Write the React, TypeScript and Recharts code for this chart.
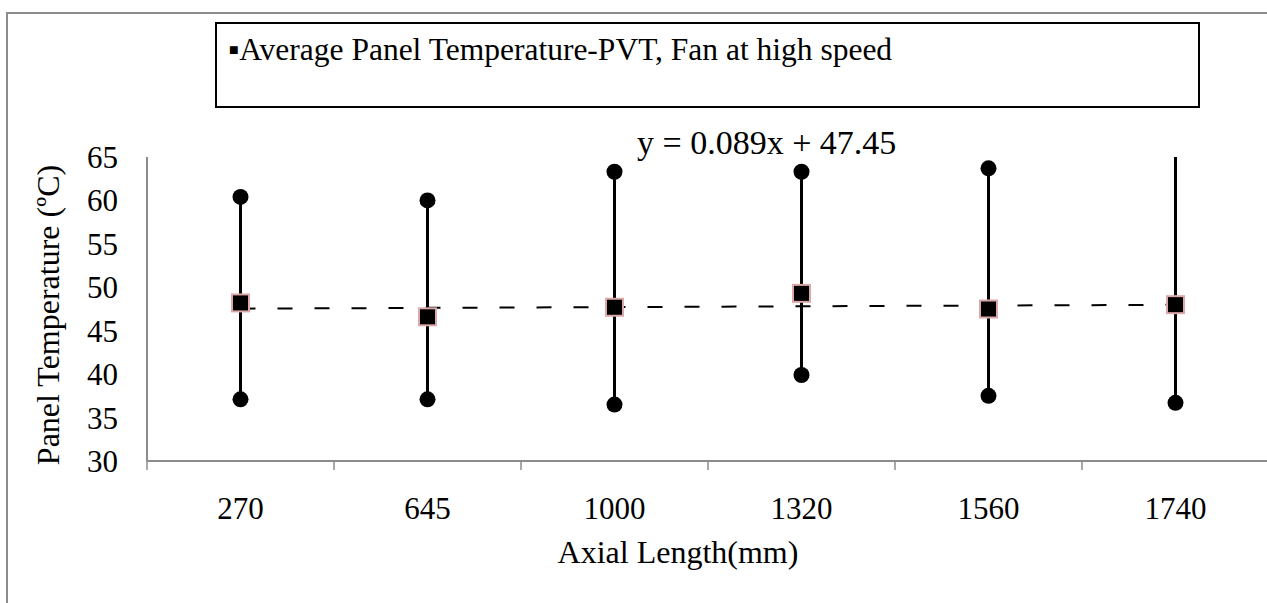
import {
  ComposedChart,
  Line,
  Bar,
  XAxis,
  YAxis,
} from 'recharts'

const categories = ['270', '645', '1000', '1320', '1560', '1740']
const avgTemp = [48.2, 46.6, 47.7, 49.3, 47.5, 48.0]
const minTemp = [37.1, 37.1, 36.5, 39.9, 37.5, 36.7]
const maxTemp = [60.4, 60.0, 63.3, 63.3, 63.7, 67.5]
// trendline y = 0.089x + 47.45 read at each category
const trendTemp = [47.54, 47.63, 47.72, 47.81, 47.9, 47.98]
const yTicks = [30, 35, 40, 45, 50, 55, 60, 65]

const data = categories.map((c, i) => ({
  name: c,
  avg: avgTemp[i],
  range: [minTemp[i], maxTemp[i]],
  trend: trendTemp[i],
}))

const FONT = '"Liberation Serif", "Times New Roman", serif'
const AXIS_GREY = '#8c8c8c'
const TICK_MARGIN = 36

const RangeShape = (props: any) => {
  const { x, y, width, height } = props
  const cx = x + width / 2
  return (
    <g>
      <line x1={cx} x2={cx} y1={y} y2={y + height} stroke="#000" strokeWidth={3} />
      <circle cx={cx} cy={y} r={8} fill="#000" />
      <circle cx={cx} cy={y + height} r={8} fill="#000" />
    </g>
  )
}

const AvgDot = (props: any) => {
  const { cx, cy, index } = props
  if (cx == null || cy == null) return null
  return (
    <rect
      key={`avg-${index}`}
      x={cx - 8.5}
      y={cy - 8.5}
      width={17}
      height={17}
      fill="#000"
      stroke="#dba9a9"
      strokeWidth={2}
    />
  )
}

// category label plus the tick marks that Excel puts between categories
const CatTick = (props: any) => {
  const { x, y, payload, index, width, visibleTicksCount } = props
  const bw = width / visibleTicksCount
  const axisY = y - TICK_MARGIN
  const left = x - bw / 2
  const right = x + bw / 2
  return (
    <g>
      <line x1={left} x2={left} y1={axisY} y2={axisY + 9} stroke={AXIS_GREY} strokeWidth={1.5} />
      {index === visibleTicksCount - 1 && (
        <line x1={right} x2={right} y1={axisY} y2={axisY + 9} stroke={AXIS_GREY} strokeWidth={1.5} />
      )}
      <text x={x} y={y} dy="0.71em" textAnchor="middle" fontSize={31} fontFamily={FONT} fill="#000">
        {payload.value}
      </text>
    </g>
  )
}

export default function App() {
  return (
    <div style={{ position: 'relative', width: 1267, height: 603, overflow: 'hidden', background: '#fff', fontFamily: FONT }}>
      <style>{'body{margin:0}'}</style>
      {/* outer chart-area frame, only left and top edges are visible */}
      <div
        style={{
          position: 'absolute',
          left: 6,
          top: 12,
          width: 1300,
          height: 700,
          borderLeft: `2px solid ${AXIS_GREY}`,
          borderTop: `2px solid ${AXIS_GREY}`,
        }}
      />
      <div
        style={{
          position: 'absolute',
          left: 215,
          top: 22,
          width: 981,
          height: 82,
          border: '2px solid #000',
        }}
      />
      <div style={{ position: 'absolute', left: 228, top: 33, fontSize: 31.5, lineHeight: '34px', color: '#000', whiteSpace: 'nowrap' }}>
        ▪Average Panel Temperature-PVT, Fan at high speed
      </div>
      <div style={{ position: 'absolute', left: 637, top: 124, fontSize: 34, lineHeight: '38px', color: '#000', whiteSpace: 'nowrap' }}>
        y = 0.089x + 47.45
      </div>
      <div style={{ position: 'absolute', left: 0, top: 0 }}>
        <ComposedChart
          width={1270}
          height={603}
          data={data}
          margin={{ top: 157, right: 1, left: 0, bottom: 0 }}
        >
          <XAxis
            dataKey="name"
            axisLine={{ stroke: AXIS_GREY, strokeWidth: 2 }}
            tickLine={false}
            tickSize={0}
            tickMargin={TICK_MARGIN}
            height={142}
            interval={0}
            tick={CatTick}
            label={({ viewBox }: any) => (
              <text
                x={viewBox.x + viewBox.width / 2 - 30}
                y={viewBox.y + 102}
                textAnchor="middle"
                fontSize={32}
                fontFamily={FONT}
                fill="#000"
              >
                Axial Length(mm)
              </text>
            )}
          />
          <YAxis
            domain={[30, 65]}
            ticks={yTicks}
            allowDataOverflow
            width={147}
            tickLine={false}
            tickSize={0}
            tickMargin={29}
            axisLine={{ stroke: AXIS_GREY, strokeWidth: 2 }}
            tick={{ fontSize: 31, fill: '#000', fontFamily: FONT }}
            label={({ viewBox }: any) => (
              <text
                x={viewBox.x + 48}
                y={viewBox.y + viewBox.height / 2 + 6}
                transform={`rotate(-90, ${viewBox.x + 48}, ${viewBox.y + viewBox.height / 2 + 6})`}
                textAnchor="middle"
                dominantBaseline="central"
                fontSize={32}
                fontFamily={FONT}
                fill="#000"
              >
                Panel Temperature (ºC)
              </text>
            )}
          />
          <Line
            dataKey="trend"
            stroke="#000"
            strokeWidth={2}
            strokeDasharray="15 22"
            dot={false}
            activeDot={false}
            isAnimationActive={false}
          />
          <Bar
            dataKey="range"
            barSize={3}
            shape={RangeShape}
            isAnimationActive={false}
          />
          <Line
            dataKey="avg"
            stroke="none"
            dot={AvgDot}
            activeDot={false}
            isAnimationActive={false}
          />
        </ComposedChart>
      </div>
    </div>
  )
}
